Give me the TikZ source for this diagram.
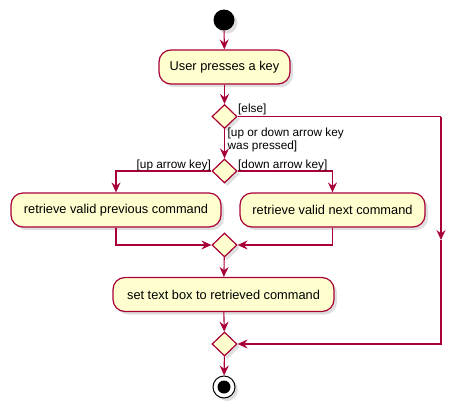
\documentclass[tikz,border=0pt]{standalone}
\usepackage{fontspec}
\setmainfont{Liberation Sans}
\usetikzlibrary{arrows.meta,shapes.geometric,shadows}
\definecolor{umlline}{HTML}{A80036}
\definecolor{umlfill}{HTML}{FEFECE}
\begin{document}
\begin{tikzpicture}[x=1pt,y=-1pt,
	shade/.style={drop shadow={shadow xshift=3pt,shadow yshift=-3pt,opacity=0.25}},
	act/.style={draw=umlline,fill=umlfill,line width=1.2pt,rounded corners=12pt,minimum height=34pt,font=\fontsize{12.8}{15}\selectfont,shade},
	branch/.style={diamond,draw=umlline,fill=umlfill,line width=1.2pt,inner sep=0pt,minimum width=25pt,minimum height=24pt,shade},
	flow/.style={draw=umlline,line width=1.1pt,-{Stealth[length=10pt,width=9pt,inset=3.5pt]}},
	plain/.style={draw=umlline,line width=1.1pt},
	guard/.style={font=\fontsize{11.8}{12.5}\selectfont,inner sep=0pt}]
	\useasboundingbox (0,0) rectangle (464,413);

	\node[circle,fill=black,minimum size=21pt,inner sep=0pt,shade] (start) at (224,20) {};
	\node[act,minimum width=131pt] (user) at (224.5,67) {User presses a key};
	\node[branch] (d1) at (224.5,116.5) {};
	\node[branch] (d2) at (224.5,171) {};
	\node[act,minimum width=210pt] (prev) at (116,210) {retrieve valid previous command};
	\node[act,minimum width=185pt] (next) at (332.5,210) {retrieve valid next command};
	\node[branch] (d3) at (224.5,245) {};
	\node[act,minimum width=221pt] (set) at (223.5,294.5) {set text box to retrieved command};
	\node[branch] (d4) at (224.5,344) {};
	\node[circle,draw=black,fill=white,line width=1pt,minimum size=22pt,inner sep=0pt,shade] (stop) at (224,387) {};
	\fill (stop) circle (6.5pt);

	\coordinate (elsetop) at (441,116.5);
	\coordinate (elsemid) at (441,240);

	\draw[flow] (start) -- (user);
	\draw[flow] (user) -- (d1);
	\draw[flow] (d1) -- (d2);
	\draw[plain] (d1.east) -- (elsetop);
	\draw[flow] (elsetop) -- (elsemid);
	\draw[flow] (elsemid) |- (d4.east);
	\draw[flow] (d2.west) -| (prev.north);
	\draw[flow] (d2.east) -| (next.north);
	\draw[flow] (prev.south) |- (d3.west);
	\draw[flow] (next.south) |- (d3.east);
	\draw[flow] (d3) -- (set);
	\draw[flow] (set) -- (d4);
	\draw[flow] (d4) -- (stop);

	\node[guard,anchor=west] (lelse) at (238,109) {[else]};
	\node[guard,anchor=north west,align=left] (lpressed) at (227.5,128) {[up or down arrow key\\was pressed]};
	\node[guard,anchor=east] (lup) at (211,165) {[up arrow key]};
	\node[guard,anchor=west] (ldown) at (238,165) {[down arrow key]};
\end{tikzpicture}
\end{document}
